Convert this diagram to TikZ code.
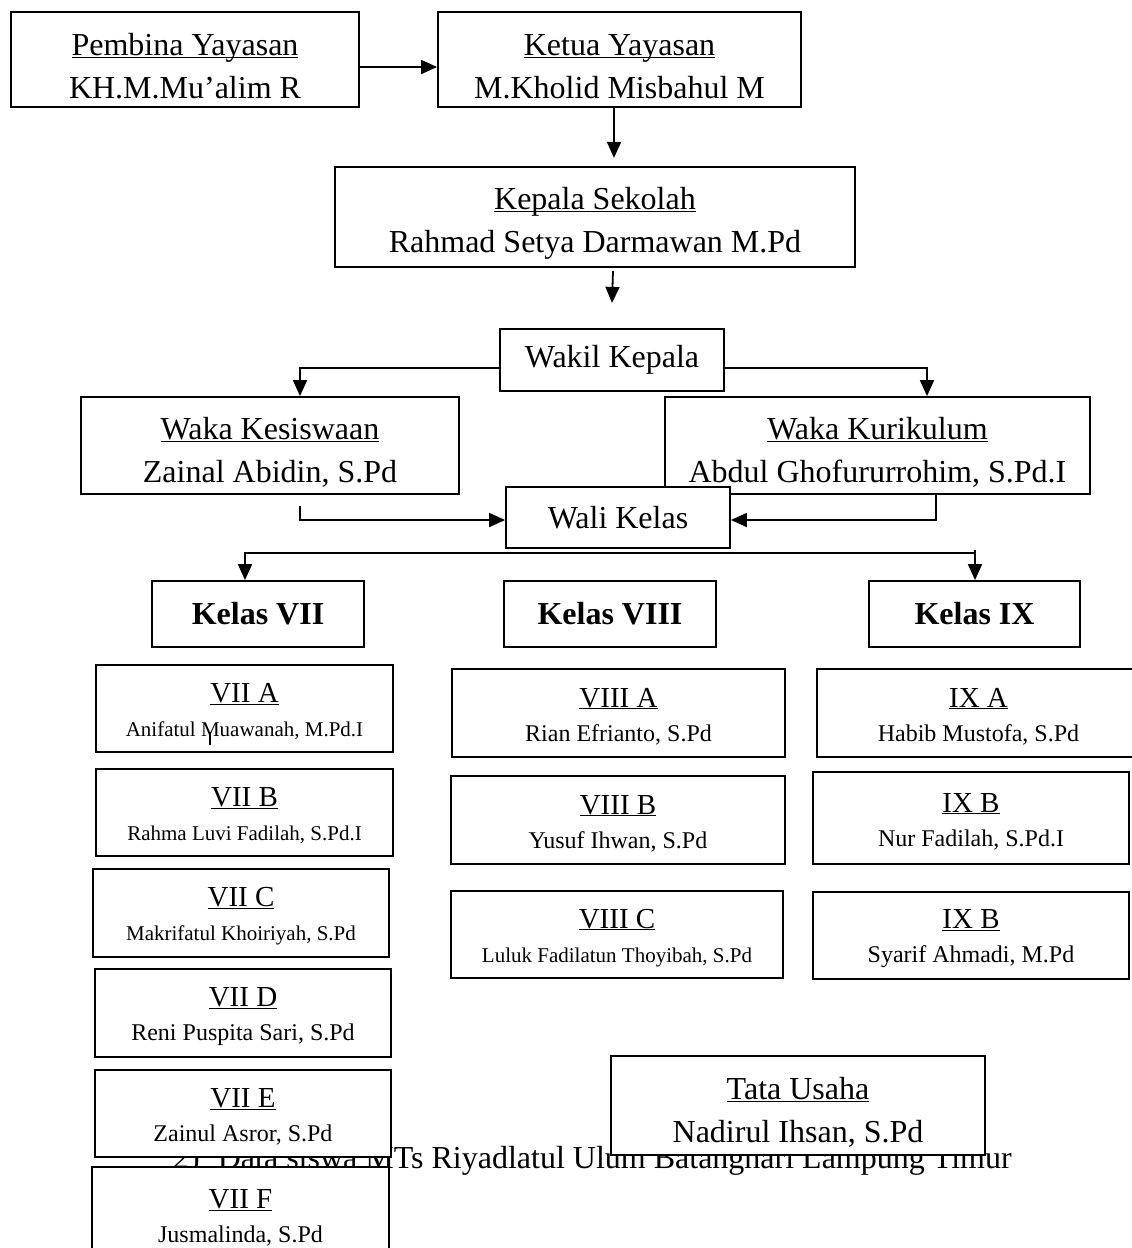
\documentclass[tikz,border=0pt]{standalone}
\usepackage{fontspec}
\setmainfont{Liberation Serif}
\usetikzlibrary{arrows.meta}
\newcommand{\ulh}{0.9em}
\newcommand{\ulx}[1]{\underline{\smash{#1}}\rule{0pt}{\ulh}}
\newcommand{\nm}[2]{{\fontsize{#1}{34}\selectfont #2}}
\begin{document}
\begin{tikzpicture}[x=1pt,y=-1pt,
  box/.style={draw, line width=1.8pt, fill=white, inner sep=0pt, align=center},
  big/.style={box, font=\fontsize{32}{43}\selectfont\renewcommand{\ulh}{1.12em}},
  small/.style={box, font=\fontsize{29}{34}\selectfont\renewcommand{\ulh}{0.9em}},
  kelas/.style={box, font=\fontsize{32}{38}\selectfont\bfseries, minimum width=212pt, minimum height=66pt},
  conn/.style={line width=1.8pt, -{Triangle[length=16pt,width=14pt]}},
  both/.style={line width=1.8pt, {Triangle[length=16pt,width=14pt]}-{Triangle[length=16pt,width=14pt]}},
]
\useasboundingbox (0,0) rectangle (1132,1248);
\fill[white] (0,0) rectangle (1132,1248);

% caption text lying behind the boxes
\node[anchor=base west, inner sep=0pt, font=\fontsize{32}{38}\selectfont] (caption) at (173,1168)
  {2)\hspace{18pt}Data siswa MTs Riyadlatul Ulum Batanghari Lampung Timur};

% top
\node[big, minimum width=348pt, minimum height=95pt] (pembina) at (185,59.5)
  {\ulx{Pembina Yayasan}\\KH.M.Mu’alim R};
\node[big, minimum width=363pt, minimum height=95pt] (ketua) at (619.5,59.5)
  {\ulx{Ketua Yayasan}\\M.Kholid Misbahul M};
\node[big, minimum width=520pt, minimum height=100pt] (kepala) at (595,217)
  {\ulx{Kepala Sekolah}\\Rahmad Setya Darmawan M.Pd};
\node[big, minimum width=224pt, minimum height=62pt] (wakil) at (612,360) {Wakil Kepala};
\node[big, minimum width=378pt, minimum height=97pt] (kesiswaan) at (270,445.5)
  {\ulx{Waka Kesiswaan}\\Zainal Abidin, S.Pd};
\node[big, minimum width=425pt, minimum height=97pt] (kurikulum) at (877.5,445.5)
  {\ulx{Waka Kurikulum}\\Abdul Ghofururrohim, S.Pd.I};
\node[big, minimum width=224pt, minimum height=61pt] (wali) at (618,517.5) {Wali Kelas};

% kelas
\node[kelas] (k7) at (258,614) {Kelas VII};
\node[kelas] (k8) at (610,614) {Kelas VIII};
\node[kelas, minimum width=211pt] (k9) at (974.5,614) {Kelas IX};

% VII column
\node[small, minimum width=297pt, minimum height=87pt] (v7a) at (244.5,708.5)
  {\ulx{VII A}\\\nm{21}{Anifatul Muawanah, M.Pd.I}};
\node[small, minimum width=297pt, minimum height=87pt] (v7b) at (244.5,812.5)
  {\ulx{VII B}\\\nm{21}{Rahma Luvi Fadilah, S.Pd.I}};
\node[small, minimum width=296pt, minimum height=88pt] (v7c) at (241,913)
  {\ulx{VII C}\\\nm{21}{Makrifatul Khoiriyah, S.Pd}};
\node[small, minimum width=296pt, minimum height=88pt] (v7d) at (243,1013)
  {\ulx{VII D}\\\nm{24}{Reni Puspita Sari, S.Pd}};
\node[small, minimum width=296pt, minimum height=87pt] (v7e) at (243,1113.5)
  {\ulx{VII E}\\\nm{24}{Zainul Asror, S.Pd}};
\node[small, minimum width=297pt, minimum height=95pt] (v7f) at (240.5,1214.5)
  {\ulx{VII F}\\\nm{24}{Jusmalinda, S.Pd}};

% VIII column
\node[small, minimum width=333pt, minimum height=88pt] (v8a) at (618.5,713)
  {\ulx{VIII A}\\\nm{24}{Rian Efrianto, S.Pd}};
\node[small, minimum width=334pt, minimum height=88pt] (v8b) at (618,820)
  {\ulx{VIII B}\\\nm{24}{Yusuf Ihwan, S.Pd}};
\node[small, minimum width=332pt, minimum height=87pt] (v8c) at (617,934.5)
  {\ulx{VIII C}\\\nm{21}{Luluk Fadilatun Thoyibah, S.Pd}};

% IX column
\node[small, minimum width=323pt, minimum height=88pt] (v9a) at (978.5,713)
  {\ulx{IX A}\\\nm{24}{Habib Mustofa, S.Pd}};
\node[small, minimum width=316pt, minimum height=92pt] (v9b) at (971,818)
  {\ulx{IX B}\\\nm{24}{Nur Fadilah, S.Pd.I}};
\node[small, minimum width=316pt, minimum height=87pt] (v9c) at (971,935.5)
  {\ulx{IX B}\\\nm{24}{Syarif Ahmadi, M.Pd}};

% tata usaha
\node[big, minimum width=374pt, minimum height=99pt] (tata) at (798,1105.5)
  {\ulx{Tata Usaha}\\Nadirul Ihsan, S.Pd};

% stray cursor mark in VII A
\draw[line width=1.5pt] (210,732) -- (210,745);

% connectors
\draw[conn] ([yshift=-7.5pt]pembina.east) -- ([yshift=-7.5pt]ketua.west);
\draw[conn] ([xshift=-5.5pt]ketua.south) -- ++(0,50);
\draw[conn] ([xshift=18pt,yshift=-3pt]kepala.south) -- ++(-1,32);
\draw[conn] ([yshift=-8pt]wakil.west) -| ([xshift=30pt]kesiswaan.north);
\draw[conn] ([yshift=-8pt]wakil.east) -| ([xshift=49.5pt]kurikulum.north);
\draw[conn] ([xshift=30pt,yshift=-11pt]kesiswaan.south) |- ([yshift=-2.5pt]wali.west);
\draw[conn] ([xshift=58.5pt]kurikulum.south) |- ([yshift=-2.5pt]wali.east);
\draw[both] ([xshift=-13pt]k7.north) -- ++(0,-27) -| ([xshift=0.5pt]k9.north);
\draw[line width=1.8pt] ([xshift=0.5pt]k9.north) ++(0,-27) -- ++(0,-3);
\end{tikzpicture}
\end{document}
